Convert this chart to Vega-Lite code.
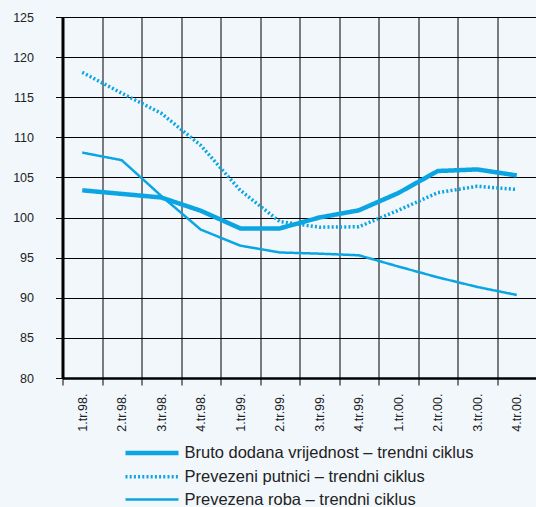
{
  "$schema": "https://vega.github.io/schema/vega-lite/v6.json",
  "autosize": {"type": "none"},
  "padding": {"left": 62.5, "top": 17, "right": 0, "bottom": 129},
  "width": 474,
  "height": 361,
  "background": "#f2f7fc",
  "config": {
    "view": {"stroke": null},
    "font": "Liberation Sans"
  },
  "data": {
    "values": [
      {"q": "1.tr.98.", "s": "Bruto dodana vrijednost – trendni ciklus", "v": 103.4},
      {"q": "2.tr.98.", "s": "Bruto dodana vrijednost – trendni ciklus", "v": 102.95},
      {"q": "3.tr.98.", "s": "Bruto dodana vrijednost – trendni ciklus", "v": 102.5},
      {"q": "4.tr.98.", "s": "Bruto dodana vrijednost – trendni ciklus", "v": 100.85},
      {"q": "1.tr.99.", "s": "Bruto dodana vrijednost – trendni ciklus", "v": 98.65},
      {"q": "2.tr.99.", "s": "Bruto dodana vrijednost – trendni ciklus", "v": 98.65},
      {"q": "3.tr.99.", "s": "Bruto dodana vrijednost – trendni ciklus", "v": 100.0},
      {"q": "4.tr.99.", "s": "Bruto dodana vrijednost – trendni ciklus", "v": 100.9},
      {"q": "1.tr.00.", "s": "Bruto dodana vrijednost – trendni ciklus", "v": 103.05},
      {"q": "2.tr.00.", "s": "Bruto dodana vrijednost – trendni ciklus", "v": 105.8},
      {"q": "3.tr.00.", "s": "Bruto dodana vrijednost – trendni ciklus", "v": 106.0},
      {"q": "4.tr.00.", "s": "Bruto dodana vrijednost – trendni ciklus", "v": 105.25},
      {"q": "1.tr.98.", "s": "Prevezeni putnici – trendni ciklus", "v": 118.1},
      {"q": "2.tr.98.", "s": "Prevezeni putnici – trendni ciklus", "v": 115.5},
      {"q": "3.tr.98.", "s": "Prevezeni putnici – trendni ciklus", "v": 113.0},
      {"q": "4.tr.98.", "s": "Prevezeni putnici – trendni ciklus", "v": 109.0},
      {"q": "1.tr.99.", "s": "Prevezeni putnici – trendni ciklus", "v": 103.4},
      {"q": "2.tr.99.", "s": "Prevezeni putnici – trendni ciklus", "v": 99.5},
      {"q": "3.tr.99.", "s": "Prevezeni putnici – trendni ciklus", "v": 98.8},
      {"q": "4.tr.99.", "s": "Prevezeni putnici – trendni ciklus", "v": 98.85},
      {"q": "1.tr.00.", "s": "Prevezeni putnici – trendni ciklus", "v": 100.9},
      {"q": "2.tr.00.", "s": "Prevezeni putnici – trendni ciklus", "v": 103.1},
      {"q": "3.tr.00.", "s": "Prevezeni putnici – trendni ciklus", "v": 103.9},
      {"q": "4.tr.00.", "s": "Prevezeni putnici – trendni ciklus", "v": 103.5},
      {"q": "1.tr.98.", "s": "Prevezena roba – trendni ciklus", "v": 108.1},
      {"q": "2.tr.98.", "s": "Prevezena roba – trendni ciklus", "v": 107.15},
      {"q": "3.tr.98.", "s": "Prevezena roba – trendni ciklus", "v": 102.7},
      {"q": "4.tr.98.", "s": "Prevezena roba – trendni ciklus", "v": 98.5},
      {"q": "1.tr.99.", "s": "Prevezena roba – trendni ciklus", "v": 96.5},
      {"q": "2.tr.99.", "s": "Prevezena roba – trendni ciklus", "v": 95.65},
      {"q": "3.tr.99.", "s": "Prevezena roba – trendni ciklus", "v": 95.5},
      {"q": "4.tr.99.", "s": "Prevezena roba – trendni ciklus", "v": 95.3},
      {"q": "1.tr.00.", "s": "Prevezena roba – trendni ciklus", "v": 93.9},
      {"q": "2.tr.00.", "s": "Prevezena roba – trendni ciklus", "v": 92.55},
      {"q": "3.tr.00.", "s": "Prevezena roba – trendni ciklus", "v": 91.35},
      {"q": "4.tr.00.", "s": "Prevezena roba – trendni ciklus", "v": 90.35}
    ]
  },
  "mark": {"type": "line", "color": "#0aa5e2"},
  "encoding": {
    "x": {
      "field": "q", "type": "nominal", "sort": null,
      "scale": {"type": "band", "paddingInner": 0, "paddingOuter": 0},
      "axis": {
        "title": null, "labelAngle": -90, "labelFontSize": 12.5, "labelColor": "#222",
        "tickBand": "extent", "grid": true, "gridColor": "#000", "gridWidth": 1, "gridOpacity": 1,
        "tickColor": "#000", "tickSize": 7, "tickWidth": 1,
        "domainColor": "#000", "domainWidth": 2.5, "labelPadding": 8
      }
    },
    "y": {
      "field": "v", "type": "quantitative",
      "scale": {"domain": [80, 125], "nice": false, "zero": false},
      "axis": {
        "title": null, "values": [80, 85, 90, 95, 100, 105, 110, 115, 120, 125],
        "labelFontSize": 12.5, "labelColor": "#222", "labelPadding": 22,
        "grid": true, "gridColor": "#000", "gridWidth": 1, "gridOpacity": 1,
        "tickColor": "#000", "tickSize": 7, "tickWidth": 1,
        "domainColor": "#000", "domainWidth": 3
      }
    },
    "strokeWidth": {
      "field": "s", "type": "nominal",
      "scale": {
        "domain": ["Bruto dodana vrijednost – trendni ciklus", "Prevezeni putnici – trendni ciklus", "Prevezena roba – trendni ciklus"],
        "range": [4.5, 2.5, 1.8]
      },
      "legend": null
    },
    "strokeDash": {
      "field": "s", "type": "nominal",
      "scale": {
        "domain": ["Bruto dodana vrijednost – trendni ciklus", "Prevezeni putnici – trendni ciklus", "Prevezena roba – trendni ciklus"],
        "range": [[1, 0], [2, 2.2], [1, 0]]
      },
      "legend": {
        "title": null, "orient": "none", "legendX": 76.5, "legendY": 423,
        "symbolType": "M-2.5,0H2.5", "symbolSize": 450, "symbolStrokeColor": "#0aa5e2",
        "symbolFillColor": "transparent",
        "labelFontSize": 16.5, "labelColor": "#222", "labelOffset": 19.5, "rowPadding": 2.3,
        "labelLimit": 400
      }
    }
  }
}
